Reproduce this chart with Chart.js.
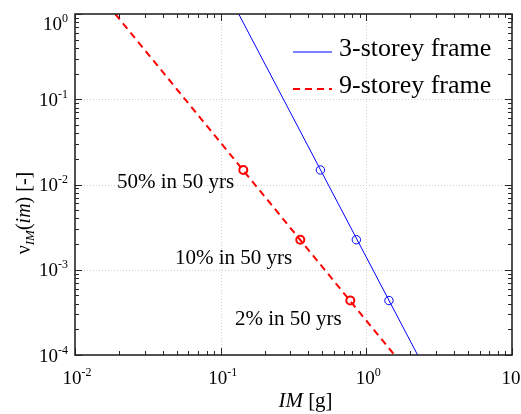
<!DOCTYPE html>
<html>
<head>
<meta charset="utf-8">
<script src="https://cdn.jsdelivr.net/npm/chart.js@4/dist/chart.umd.min.js"></script>
<style>
  html, body { margin: 0; padding: 0; background: #fff; }
  #wrap { width: 521px; height: 414px; }
</style>
</head>
<body>
<div id="wrap"><canvas id="c" width="521" height="414"></canvas></div>
<script>
// Seismic hazard curves: mean annual frequency of exceedance vs intensity measure
const seriesNames = ['3-storey frame', '9-storey frame'];
const seriesColors = ['#0000ff', '#ff0000'];

// straight hazard curves (log-log), end points
const im3 = [0.133, 2.25];
const nu3 = [1, 1e-4];
const im9 = [0.0189, 1.56];
const nu9 = [1, 1e-4];

// hazard levels marked on both curves
const hazardLabels = ['50% in 50 yrs', '10% in 50 yrs', '2% in 50 yrs'];
const hazardNu = [0.0148, 0.00225, 0.000435];
const hazardIm3 = [0.484, 0.854, 1.43];
const hazardIm9 = [0.143, 0.352, 0.776];

// decade tick exponents
const xTickExp = [-2, -1, 0, 1];
const yTickExp = [-4, -3, -2, -1, 0];

const SERIF = '"Liberation Serif", "Times New Roman", serif';

function pts(xs, ys) { return xs.map((x, i) => ({ x: x, y: ys[i] })); }

// draws 10^e with a raised exponent; align 'center' or 'right'
function drawPow(ctx, exp, x, baseline, align) {
  const base = '10', sup = String(exp);
  ctx.font = '19px ' + SERIF;
  const wb = ctx.measureText(base).width;
  ctx.font = '12px ' + SERIF;
  const ws = ctx.measureText(sup).width;
  const w = wb + ws;
  let left = align === 'right' ? x - w : x - w / 2;
  ctx.textAlign = 'left';
  ctx.textBaseline = 'alphabetic';
  ctx.font = '19px ' + SERIF;
  ctx.fillText(base, left, baseline);
  ctx.font = '12px ' + SERIF;
  ctx.fillText(sup, left + wb, baseline - 8);
}

// runs of [text, font, dy] drawn one after another
function drawRuns(ctx, runs, x, y, align) {
  let total = 0;
  runs.forEach(r => { ctx.font = r[1]; total += ctx.measureText(r[0]).width; });
  let cx = align === 'center' ? x - total / 2 : x;
  runs.forEach(r => {
    ctx.font = r[1];
    ctx.fillText(r[0], cx, y + (r[2] || 0));
    cx += ctx.measureText(r[0]).width;
  });
}

const framePlugin = {
  id: 'frame',
  beforeDatasetsDraw(chart) {
    const { ctx, chartArea: a, scales: { x, y } } = chart;
    ctx.save();
    ctx.strokeStyle = '#cfcfcf';
    ctx.lineWidth = 1;
    ctx.setLineDash([1, 2]);
    xTickExp.forEach(e => {
      const px = Math.round(x.getPixelForValue(Math.pow(10, e))) + 0.5;
      if (px <= a.left + 1 || px >= a.right - 1) return;
      ctx.beginPath(); ctx.moveTo(px, a.top); ctx.lineTo(px, a.bottom); ctx.stroke();
    });
    yTickExp.forEach(e => {
      const py = Math.round(y.getPixelForValue(Math.pow(10, e))) + 0.5;
      if (py <= a.top + 1 || py >= a.bottom - 1) return;
      ctx.beginPath(); ctx.moveTo(a.left, py); ctx.lineTo(a.right, py); ctx.stroke();
    });
    ctx.restore();
  },
  afterDatasetsDraw(chart) {
    const { ctx, chartArea: a, scales: { x, y } } = chart;
    ctx.save();
    ctx.setLineDash([]);
    ctx.strokeStyle = '#262626';
    ctx.lineWidth = 1;

    // tick marks on all four sides
    const majorLen = 7, minorLen = 4;
    ctx.beginPath();
    for (let e = xTickExp[0]; e < xTickExp[xTickExp.length - 1] + 1; e++) {
      for (let m = 1; m <= 9; m++) {
        const v = m * Math.pow(10, e);
        if (v < x.min || v > x.max) continue;
        const px = Math.round(x.getPixelForValue(v)) + 0.5;
        const len = m === 1 ? majorLen : minorLen;
        ctx.moveTo(px, a.bottom); ctx.lineTo(px, a.bottom - len);
        ctx.moveTo(px, a.top); ctx.lineTo(px, a.top + len);
      }
    }
    for (let e = yTickExp[0]; e < yTickExp[yTickExp.length - 1] + 1; e++) {
      for (let m = 1; m <= 9; m++) {
        const v = m * Math.pow(10, e);
        if (v < y.min || v > y.max) continue;
        const py = Math.round(y.getPixelForValue(v)) + 0.5;
        const len = m === 1 ? majorLen : minorLen;
        ctx.moveTo(a.left, py); ctx.lineTo(a.left + len, py);
        ctx.moveTo(a.right, py); ctx.lineTo(a.right - len, py);
      }
    }
    ctx.stroke();

    // axes box
    ctx.lineWidth = 1.6;
    ctx.strokeRect(a.left, a.top, a.right - a.left, a.bottom - a.top);

    // tick labels
    ctx.fillStyle = '#000';
    xTickExp.forEach(e => {
      const px = x.getPixelForValue(Math.pow(10, e));
      drawPow(ctx, e, px + 2, a.bottom + 29, 'center');
    });
    yTickExp.forEach(e => {
      const py = Math.max(y.getPixelForValue(Math.pow(10, e)), a.top + 9);
      drawPow(ctx, e, a.left - 7, py + 6.5, 'right');
    });

    // x axis title
    ctx.textBaseline = 'alphabetic';
    ctx.textAlign = 'left';
    drawRuns(ctx, [['IM', 'italic 21px ' + SERIF], [' [g]', '21px ' + SERIF]],
      (a.left + a.right) / 2 + 12, a.bottom + 52, 'center');

    // y axis title
    ctx.save();
    ctx.translate(30, 213);
    ctx.rotate(-Math.PI / 2);
    drawRuns(ctx, [
      ['\u03bd', '20px ' + SERIF],
      ['IM', 'italic 13px ' + SERIF, 4],
      ['(', '20px ' + SERIF],
      ['im', 'italic 20px ' + SERIF],
      [') [-]', '20px ' + SERIF]
    ], 0, 0, 'center');
    ctx.restore();

    // hazard level annotations
    const annPos = [[117, 188], [175, 264], [235, 325]];
    ctx.font = '21px ' + SERIF;
    hazardLabels.forEach((t, i) => ctx.fillText(t, annPos[i][0], annPos[i][1]));

    // legend
    const legendRows = [56, 93];
    chart.data.datasets.slice(0, 2).forEach((ds, i) => {
      const ly = legendRows[i] - 4;
      ctx.strokeStyle = ds.borderColor;
      ctx.lineWidth = ds.borderWidth;
      ctx.setLineDash(ds.borderDash || []);
      ctx.beginPath(); ctx.moveTo(293, ly); ctx.lineTo(332, ly); ctx.stroke();
      ctx.setLineDash([]);
      ctx.fillStyle = '#000';
      ctx.font = '26px ' + SERIF;
      ctx.fillText(ds.label, 339, legendRows[i]);
    });
    ctx.restore();
  }
};

new Chart(document.getElementById('c'), {
  type: 'scatter',
  data: {
    datasets: [
      { label: seriesNames[0], data: pts(im3, nu3), showLine: true, borderColor: seriesColors[0],
        borderWidth: 1, pointRadius: 0 },
      { label: seriesNames[1], data: pts(im9, nu9), showLine: true, borderColor: seriesColors[1],
        borderWidth: 2, borderDash: [7, 5], pointRadius: 0 },
      { label: 'hazard-3', data: pts(hazardIm3, hazardNu), showLine: false, pointStyle: 'circle',
        pointRadius: 4.2, pointBorderWidth: 1, borderColor: seriesColors[0], backgroundColor: 'rgba(0,0,0,0)' },
      { label: 'hazard-9', data: pts(hazardIm9, hazardNu), showLine: false, pointStyle: 'circle',
        pointRadius: 4, pointBorderWidth: 2, borderColor: seriesColors[1], backgroundColor: 'rgba(0,0,0,0)' }
    ]
  },
  options: {
    responsive: false,
    devicePixelRatio: 1,
    animation: false,
    layout: { padding: { left: 75, top: 14, right: 9, bottom: 59 } },
    scales: {
      x: { type: 'logarithmic', min: 0.01, max: 10, display: false },
      y: { type: 'logarithmic', min: 1e-4, max: 1, display: false }
    },
    plugins: { legend: { display: false }, tooltip: { enabled: false } }
  },
  plugins: [framePlugin]
});
</script>
</body>
</html>
